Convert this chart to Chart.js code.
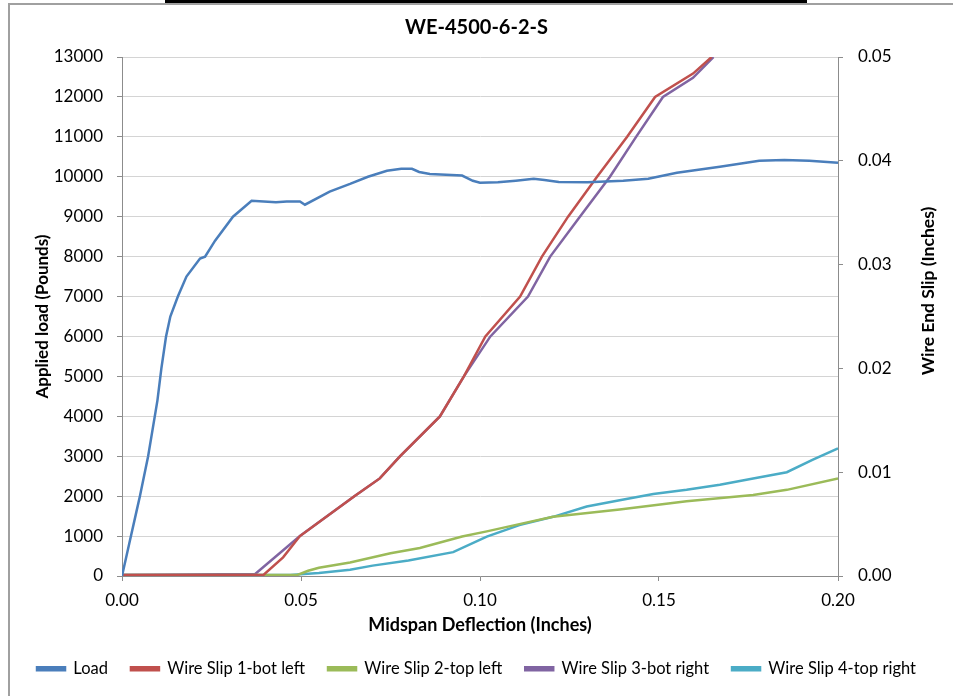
<!DOCTYPE html>
<html>
<head>
<meta charset="utf-8">
<script src="https://cdn.jsdelivr.net/npm/chart.js@4.4.1/dist/chart.umd.min.js"></script>
<style>
  html, body { margin: 0; padding: 0; background: #fff; overflow: hidden; }
  #wrap { position: relative; width: 953px; height: 696px; }
  #frame { position: absolute; left: 8px; top: 3px; width: 1000px; height: 800px; border-left: 2px solid #a0a0a0; border-top: 2px solid #a0a0a0; }
  #bar { position: absolute; left: 165px; top: 0; width: 642px; height: 3px; background: #000; }
  canvas { position: absolute; left: 0; top: 0; }
</style>
</head>
<body>
<div id="wrap">
  <div id="frame"></div>
  <div id="bar"></div>
  <canvas id="chart" width="953" height="696"></canvas>
</div>
<script>
// Charge appliquée (lb) en fonction de la flèche à mi-portée (in)
const loadX = [0, 0.002, 0.004, 0.005, 0.0073, 0.0099, 0.011, 0.0123, 0.0135, 0.0156, 0.018, 0.0218, 0.0232, 0.026, 0.031,
  0.0362, 0.043, 0.046, 0.0497, 0.0511, 0.058, 0.0637, 0.0687, 0.074, 0.078, 0.081, 0.083, 0.086, 0.095, 0.098,
  0.1, 0.105, 0.11, 0.115, 0.118, 0.122, 0.13, 0.14, 0.147, 0.155, 0.167, 0.178, 0.185, 0.192, 0.2];
const loadY = [0, 800, 1600, 2000, 3000, 4400, 5200, 6000, 6500, 7000, 7500, 7950, 8000, 8400, 9000,
  9400, 9360, 9380, 9380, 9300, 9630, 9820, 10000, 10150, 10200, 10200, 10120, 10070, 10030, 9900,
  9850, 9860, 9900, 9950, 9920, 9870, 9860, 9900, 9950, 10100, 10250, 10400, 10420, 10400, 10350];

// Glissement des fils (in)
const slip1X = [0, 0.0395, 0.045, 0.0497, 0.0649, 0.072, 0.0777, 0.0888, 0.0955, 0.1015, 0.1112, 0.1173, 0.1246, 0.1327, 0.1411, 0.1489, 0.1595, 0.1647];
const slip1Y = [0.0001, 0.0001, 0.0018, 0.00385, 0.00769, 0.0094, 0.01154, 0.01538, 0.01923, 0.02308, 0.02692, 0.03077, 0.03462, 0.03846, 0.04231, 0.04615, 0.0484, 0.05];

const slip2X = [0, 0.049, 0.052, 0.055, 0.0637, 0.075, 0.0832, 0.095, 0.1019, 0.111, 0.1204, 0.139, 0.1577, 0.1763, 0.1857, 0.2];
const slip2Y = [0.0001, 0.0001, 0.0005, 0.0008, 0.0013, 0.0022, 0.0027, 0.0038, 0.0043, 0.005, 0.0057, 0.0064, 0.0072, 0.0078, 0.0083, 0.0094];

const slip3X = [0, 0.0372, 0.0497, 0.0649, 0.072, 0.0777, 0.0888, 0.0955, 0.1029, 0.1134, 0.1196, 0.1279, 0.1363, 0.1436, 0.1511, 0.1595, 0.1652];
const slip3Y = [0.0001, 0.0002, 0.00385, 0.00769, 0.0094, 0.01154, 0.01538, 0.01923, 0.02308, 0.02692, 0.03077, 0.03462, 0.03846, 0.04231, 0.04615, 0.048, 0.05];

const slip4X = [0, 0.047, 0.055, 0.0637, 0.07, 0.08, 0.0925, 0.1019, 0.111, 0.1204, 0.1298, 0.139, 0.1484, 0.1577, 0.167, 0.1763, 0.1857, 0.193, 0.2];
const slip4Y = [0.0001, 0.0001, 0.0003, 0.0006, 0.001, 0.0015, 0.0023, 0.0038, 0.0049, 0.0057, 0.0067, 0.0073, 0.0079, 0.0083, 0.0088, 0.0094, 0.01, 0.0112, 0.0123];

const seriesNames = ['Load', 'Wire Slip 1-bot left', 'Wire Slip 2-top left', 'Wire Slip 3-bot right', 'Wire Slip 4-top right'];
const seriesColors = ['#4a7ebb', '#c0504d', '#9bbb59', '#8064a2', '#4bacc6'];

const toPoints = (xs, ys) => xs.map((x, i) => ({ x: x, y: ys[i] }));

const FONT = 'Lato, "Open Sans", sans-serif';
const gridGrey = '#d4d4d4';
const axisGrey = '#8c8c8c';

const makeSet = (i, pts, axis) => ({
    label: seriesNames[i],
    data: pts,
    yAxisID: axis,
    borderColor: seriesColors[i],
    backgroundColor: seriesColors[i],
    borderWidth: 2.5,
    pointRadius: 0,
    tension: 0
});

// Titre de l'axe de droite, lu de bas en haut comme dans Excel
const rightTitle = {
    id: 'rightTitle',
    afterDraw(chart) {
        const ctx = chart.ctx;
        ctx.save();
        ctx.translate(928, 291);
        ctx.rotate(-Math.PI / 2);
        ctx.font = 'bold 17.5px ' + FONT;
        ctx.fillStyle = '#000';
        ctx.textAlign = 'center';
        ctx.textBaseline = 'middle';
        ctx.fillText('Wire End Slip (Inches)', 0, 0);
        ctx.restore();
    }
};

new Chart(document.getElementById('chart'), {
    type: 'line',
    data: {
        datasets: [
            makeSet(0, toPoints(loadX, loadY), 'y'),
            makeSet(1, toPoints(slip1X, slip1Y), 'y1'),
            makeSet(2, toPoints(slip2X, slip2Y), 'y1'),
            makeSet(3, toPoints(slip3X, slip3Y), 'y1'),
            makeSet(4, toPoints(slip4X, slip4Y), 'y1')
        ]
    },
    plugins: [rightTitle],
    options: {
        responsive: false,
        animation: false,
        layout: { padding: { top: 0, bottom: 9, left: 0, right: 0 } },
        plugins: {
            title: {
                display: true,
                text: 'WE-4500-6-2-S',
                color: '#000',
                font: { family: FONT, size: 20, weight: 'bold' },
                padding: { top: 16, bottom: 17 }
            },
            legend: {
                position: 'bottom',
                labels: {
                    color: '#000',
                    font: { family: FONT, size: 16.5 },
                    boxWidth: 28,
                    boxHeight: 3,
                    padding: 23
                }
            },
            tooltip: { enabled: false }
        },
        scales: {
            x: {
                type: 'linear',
                min: 0,
                max: 0.2,
                afterFit: (s) => { s.height = 61.5; },
                ticks: {
                    stepSize: 0.05,
                    color: '#000',
                    font: { family: FONT, size: 17 },
                    padding: 9,
                    maxRotation: 0,
                    callback: (v) => v.toFixed(2)
                },
                grid: { drawOnChartArea: false, tickLength: 5, color: axisGrey },
                border: { color: axisGrey },
                title: {
                    display: true,
                    text: 'Midspan Deflection (Inches)',
                    color: '#000',
                    font: { family: FONT, size: 18, weight: 'bold' },
                    padding: { top: 0, bottom: 2 }
                }
            },
            y: {
                position: 'left',
                min: 0,
                max: 13000,
                afterFit: (s) => { s.width = 122; },
                ticks: {
                    stepSize: 1000,
                    color: '#000',
                    font: { family: FONT, size: 17 },
                    padding: 14,
                    callback: (v) => String(v)
                },
                grid: { color: gridGrey, tickLength: 5, tickColor: axisGrey },
                border: { color: axisGrey },
                title: {
                    display: true,
                    text: 'Applied load (Pounds)',
                    color: '#000',
                    font: { family: FONT, size: 17, weight: 'bold' },
                    padding: { top: 32, bottom: 0 }
                }
            },
            y1: {
                position: 'right',
                min: 0,
                max: 0.05,
                afterFit: (s) => { s.width = 115; },
                ticks: {
                    stepSize: 0.01,
                    color: '#000',
                    font: { family: FONT, size: 17 },
                    padding: 15,
                    callback: (v) => v.toFixed(2)
                },
                grid: { drawOnChartArea: false, tickLength: 5, color: axisGrey },
                border: { color: axisGrey },
                title: { display: false }
            }
        }
    }
});
</script>
</body>
</html>
